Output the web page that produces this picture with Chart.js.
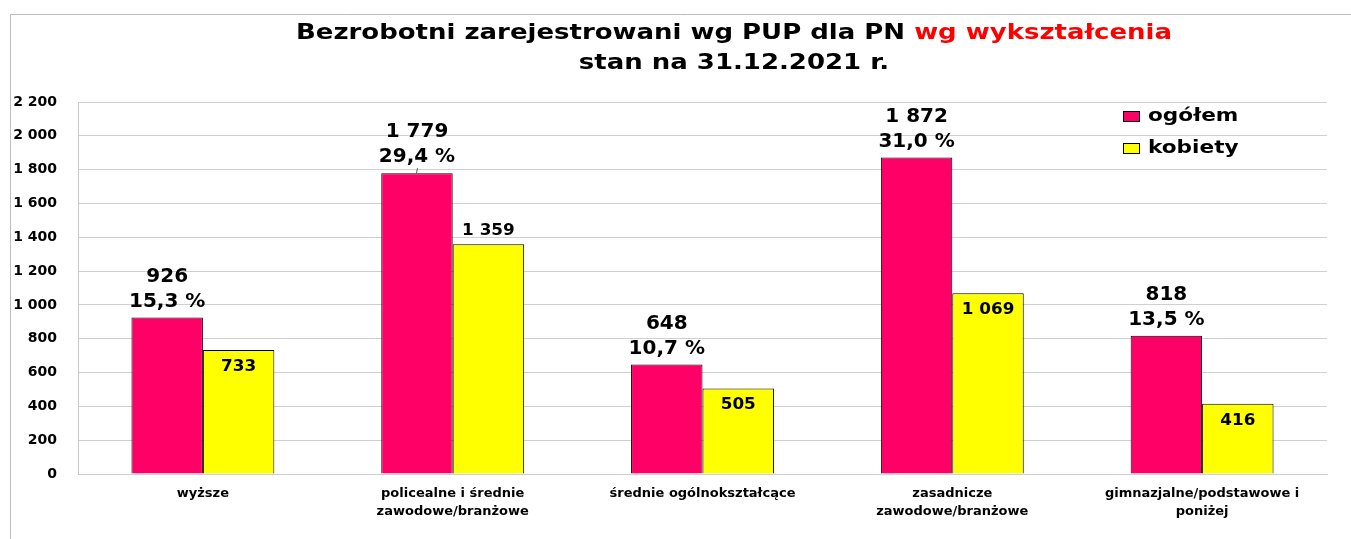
<!DOCTYPE html>
<html lang="pl">
<head>
<meta charset="utf-8">
<title>Bezrobotni wg wykształcenia</title>
<script src="https://cdn.jsdelivr.net/npm/chart.js@4.4.1/dist/chart.umd.min.js"></script>
<style>
    html, body { margin: 0; padding: 0; background: #fff; }
    #wrap { width: 1351px; height: 539px; position: relative; }
</style>
</head>
<body>
<div id="wrap"><canvas id="chart"></canvas></div>
<script>
// Dane z wykresu
const categories = [
    ['wyższe'],
    ['policealne i średnie', 'zawodowe/branżowe'],
    ['średnie ogólnokształcące'],
    ['zasadnicze', 'zawodowe/branżowe'],
    ['gimnazjalne/podstawowe i', 'poniżej']
];
const ogolem = [926, 1779, 648, 1872, 818];
const kobiety = [733, 1359, 505, 1069, 416];
const udzial = ['15,3 %', '29,4 %', '10,7 %', '31,0 %', '13,5 %'];
// kobiety: etykieta nad słupkiem (true) czy w środku
const kobietyAbove = [false, true, false, false, false];
const yMax = 2200;
const yStep = 200;

const FONT = '"DejaVu Sans", Verdana, sans-serif';
const fmt = v => String(v).replace(/\B(?=(\d{3})+(?!\d))/g, ' ');

// tekst rozciągnięty w poziomie (jak w oryginalnym obrazku)
function stretchedText(ctx, text, x, y, sx, align) {
    const w = ctx.measureText(text).width * sx;
    let left = x;
    if (align === 'center') left = x - w / 2;
    ctx.save();
    ctx.translate(left, y);
    ctx.scale(sx, 1);
    ctx.textAlign = 'left';
    ctx.fillText(text, 0, 0);
    ctx.restore();
    return w;
}

// ramka, tytuł, legenda i etykiety danych
const decorations = {
    id: 'decorations',
    beforeDraw(chart) {
        const ctx = chart.ctx;
        ctx.save();
        ctx.strokeStyle = '#bdbdbd';
        ctx.lineWidth = 1;
        ctx.beginPath();
        ctx.moveTo(10.5, 539);
        ctx.lineTo(10.5, 14.5);
        ctx.lineTo(1351, 14.5);
        ctx.stroke();
        ctx.restore();
    },
    afterDatasetsDraw(chart) {
        const ctx = chart.ctx;
        ctx.save();
        ctx.textBaseline = 'middle';

        // tytuł
        ctx.font = 'bold 22px ' + FONT;
        const part1 = 'Bezrobotni zarejestrowani wg PUP dla PN ';
        const part2 = 'wg wykształcenia';
        const w1 = ctx.measureText(part1).width;
        const w2 = ctx.measureText(part2).width;
        const sx = 876 / (w1 + w2);
        const cx = 734;
        const x0 = cx - (w1 + w2) * sx / 2;
        ctx.fillStyle = '#000';
        stretchedText(ctx, part1, x0, 33, sx, 'left');
        ctx.fillStyle = '#ff0000';
        stretchedText(ctx, part2, x0 + w1 * sx, 33, sx, 'left');
        ctx.fillStyle = '#000';
        stretchedText(ctx, 'stan na 31.12.2021 r.', cx, 63, sx, 'center');

        // legenda
        const legend = [
            { label: chart.data.datasets[0].label, color: chart.data.datasets[0].backgroundColor, y: 116 },
            { label: chart.data.datasets[1].label, color: chart.data.datasets[1].backgroundColor, y: 148 }
        ];
        ctx.font = 'bold 18px ' + FONT;
        legend.forEach(item => {
            ctx.fillStyle = item.color;
            ctx.fillRect(1123, item.y - 5, 17, 11);
            ctx.strokeStyle = '#000';
            ctx.lineWidth = 1;
            ctx.strokeRect(1123.5, item.y - 4.5, 16, 10);
            ctx.fillStyle = '#000';
            stretchedText(ctx, item.label, 1148, item.y, 1.2, 'left');
        });

        // etykiety ogółem
        const m0 = chart.getDatasetMeta(0);
        ctx.textAlign = 'center';
        ctx.font = 'bold 20px ' + FONT;
        m0.data.forEach((bar, i) => {
            ctx.fillText(fmt(ogolem[i]), bar.x, bar.y - 41);
            ctx.fillText(udzial[i], bar.x, bar.y - 16);
        });
        // linia odniesienia przy przesuniętej etykiecie
        const b1 = m0.data[1];
        ctx.strokeStyle = '#555';
        ctx.beginPath();
        ctx.moveTo(b1.x + 0.5, b1.y - 5);
        ctx.lineTo(b1.x - 0.5, b1.y);
        ctx.stroke();

        // etykiety kobiety
        const m1 = chart.getDatasetMeta(1);
        ctx.font = 'bold 15px ' + FONT;
        m1.data.forEach((bar, i) => {
            const y = kobietyAbove[i] ? bar.y - 13 : bar.y + 17;
            stretchedText(ctx, fmt(kobiety[i]), bar.x, y, 1.12, 'center');
        });

        ctx.restore();
    }
};

new Chart(document.getElementById('chart'), {
    type: 'bar',
    data: {
        labels: categories,
        datasets: [
            {
                label: 'ogółem',
                data: ogolem,
                backgroundColor: '#ff0066',
                borderColor: '#000',
                borderWidth: 1,
                categoryPercentage: 0.572,
                barPercentage: 1.0
            },
            {
                label: 'kobiety',
                data: kobiety,
                backgroundColor: '#ffff00',
                borderColor: '#000',
                borderWidth: 1,
                categoryPercentage: 0.572,
                barPercentage: 1.0
            }
        ]
    },
    options: {
        responsive: true,
        maintainAspectRatio: false,
        animation: false,
        events: [],
        layout: { padding: { top: 102, right: 24, bottom: 0, left: 0 } },
        plugins: {
            legend: { display: false },
            title: { display: false },
            tooltip: { enabled: false }
        },
        scales: {
            x: {
                grid: { display: false },
                border: { color: '#d0d0d0' },
                ticks: {
                    color: '#000',
                    font: { family: FONT, weight: 'bold', size: 13, lineHeight: 1.35 },
                    padding: 3,
                    maxRotation: 0,
                    autoSkip: false
                },
                afterFit(scale) { scale.height = 65; }
            },
            y: {
                min: 0,
                max: yMax,
                grid: { color: '#d0d0d0', drawTicks: false },
                border: { color: '#c8c8c8' },
                ticks: {
                    stepSize: yStep,
                    color: '#000',
                    font: { family: FONT, weight: 'bold', size: 14 },
                    padding: 21,
                    callback: v => fmt(v)
                },
                afterFit(scale) { scale.width = 78; }
            }
        }
    },
    plugins: [decorations]
});
</script>
</body>
</html>
